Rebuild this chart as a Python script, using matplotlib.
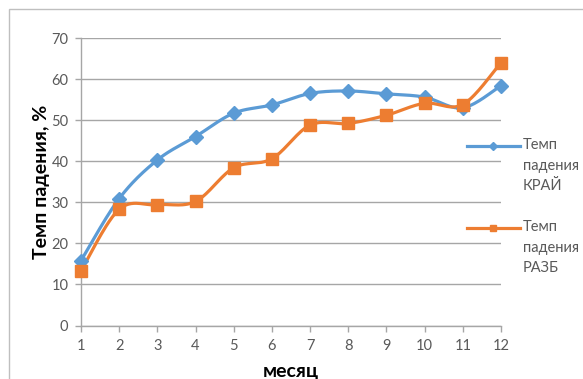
import numpy as np
import matplotlib
matplotlib.use("Agg")
import matplotlib.pyplot as plt
from matplotlib.lines import Line2D
from matplotlib.patches import Rectangle

plt.rcParams['font.family'] = ['Lato', 'DejaVu Sans']

months = [1, 2, 3, 4, 5, 6, 7, 8, 9, 10, 11, 12]
krai = [15.8, 30.9, 40.3, 46.0, 51.7, 53.7, 56.5, 57.1, 56.4, 55.6, 53.0, 58.4]
razb = [13.3, 28.3, 29.4, 30.2, 38.4, 40.6, 48.8, 49.2, 51.2, 54.1, 53.8, 64.0]
series_names = ["Темп\nпадения\nКРАЙ", "Темп\nпадения\nРАЗБ"]
y_ticks = [0, 10, 20, 30, 40, 50, 60, 70]

BLUE = "#5B9BD5"
ORANGE = "#ED7D31"
GRID = "#A6A6A6"
TEXT = "#595959"


def smooth(x, y, n=30):
    """Catmull-Rom style Bezier smoothing like office chart 'smoothed lines'."""
    x = np.asarray(x, float)
    y = np.asarray(y, float)
    px = np.concatenate([[x[0]], x, [x[-1]]])
    py = np.concatenate([[y[0]], y, [y[-1]]])
    xs, ys = [], []
    t = np.linspace(0, 1, n)
    for i in range(1, len(px) - 2):
        p0 = np.array([px[i], py[i]])
        p3 = np.array([px[i + 1], py[i + 1]])
        p1 = p0 + (np.array([px[i + 1], py[i + 1]]) - np.array([px[i - 1], py[i - 1]])) / 6
        p2 = p3 - (np.array([px[i + 2], py[i + 2]]) - np.array([px[i], py[i]])) / 6
        b = ((1 - t) ** 3)[:, None] * p0 + (3 * (1 - t) ** 2 * t)[:, None] * p1 \
            + (3 * (1 - t) * t ** 2)[:, None] * p2 + (t ** 3)[:, None] * p3
        xs.extend(b[:, 0])
        ys.extend(b[:, 1])
    return np.array(xs), np.array(ys)


W, H = 583, 379
fig = plt.figure(figsize=(W / 100, H / 100), dpi=100)
fig.patch.set_facecolor("white")

# outer chart frame
fig.add_artist(Rectangle((9 / W, -0.1), 1.2, 1 - 9 / H + 0.1, transform=fig.transFigure,
                         fill=False, edgecolor="#BFBFBF", linewidth=1.0))

ax = fig.add_axes([81 / W, 1 - 325.5 / H, 420 / W, (325.5 - 38) / H])
ax.set_xlim(1, 12)
ax.set_ylim(0, 70)
ax.set_yticks(y_ticks)
ax.set_xticks(months)
ax.grid(axis="y", color=GRID, linewidth=1.0)
ax.set_axisbelow(True)
for s in ("top", "right"):
    ax.spines[s].set_visible(False)
for s in ("left", "bottom"):
    ax.spines[s].set_color(GRID)
    ax.spines[s].set_linewidth(1.0)
ax.tick_params(axis="both", colors=GRID, labelcolor=TEXT, labelsize=10.5, length=4, width=1.0)
ax.tick_params(axis="y", pad=5)
ax.tick_params(axis="x", pad=6)

for vals, color, marker, ms in ((krai, BLUE, "D", 7), (razb, ORANGE, "s", 8)):
    sx, sy = smooth(months, vals)
    ax.plot(sx, sy, color=color, linewidth=2.3, solid_capstyle="round", clip_on=False, zorder=3)
    ax.plot(months, vals, linestyle="none", marker=marker, markersize=ms, color=color,
            markeredgecolor=color, clip_on=False, zorder=4)

ax.set_ylabel("Темп падения, %", fontsize=14, fontweight="bold", color="black", labelpad=1)
ax.set_xlabel("месяц", fontsize=14, fontweight="bold", color="black", labelpad=7)

# legend
for name, color, marker, ypix in ((series_names[0], BLUE, "D", 146), (series_names[1], ORANGE, "s", 228)):
    yf = 1 - ypix / H
    fig.add_artist(Line2D([467 / W, 520 / W], [yf, yf], transform=fig.transFigure,
                          color=color, linewidth=2.3))
    fig.add_artist(Line2D([493 / W], [yf], transform=fig.transFigure, color=color,
                          marker=marker, markersize=4.5))
    fig.text(523 / W, yf + 8 / H, name, fontsize=10.5, color=TEXT, va="top", ha="left",
             linespacing=1.6)

fig.savefig("out.png", dpi=100)
